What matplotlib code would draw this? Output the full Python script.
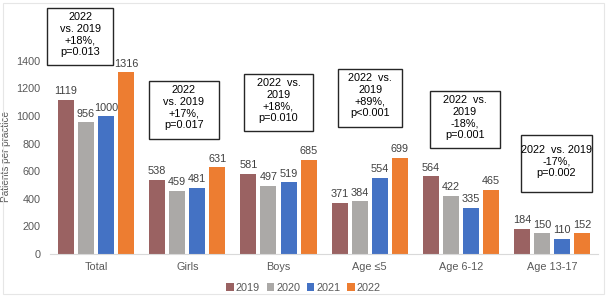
import matplotlib
matplotlib.use("Agg")
import matplotlib.pyplot as plt
import numpy as np
from matplotlib.patches import Rectangle

plt.rcParams['font.family'] = ['Liberation Sans', 'DejaVu Sans']

categories = ['Total', 'Girls', 'Boys', 'Age \u22645', 'Age 6-12', 'Age 13-17']
years = ['2019', '2020', '2021', '2022']
v2019 = [1119, 538, 581, 371, 564, 184]
v2020 = [956, 459, 497, 384, 422, 150]
v2021 = [1000, 481, 519, 554, 335, 110]
v2022 = [1316, 631, 685, 699, 465, 152]
notes = [
    "2022\nvs. 2019\n+18%,\np=0.013",
    "2022\nvs. 2019\n+17%,\np=0.017",
    "2022  vs.\n2019\n+18%,\np=0.010",
    "2022  vs.\n2019\n+89%,\np<0.001",
    "2022  vs.\n2019\n-18%,\np=0.001",
    "2022  vs. 2019\n-17%,\np=0.002",
]
# box extents in data coords: (x0, x1, y_bottom, y_top)
note_boxes = [
    (-0.535, 0.186, 1371, 1784),
    (0.579, 1.344, 834, 1255),
    (1.617, 2.383, 892, 1306),
    (2.656, 3.355, 921, 1342),
    (3.661, 4.426, 769, 1182),
    (4.656, 5.432, 450, 863),
]
colors = ['#9A6262', '#ABA9A7', '#4472C4', '#ED7D31']

fig = plt.figure(figsize=(6.07, 3.0), dpi=100)
ax = fig.add_axes([0.083, 0.153, 0.902, 0.736])

x = np.arange(len(categories))
width = 0.175
step = 0.22
series = [v2019, v2020, v2021, v2022]
for k, (vals, col, yr) in enumerate(zip(series, colors, years)):
    pos = x + (k - 1.5) * step
    ax.bar(pos, vals, width, color=col, label=yr)
    for xi, v in zip(pos, vals):
        ax.text(xi, v + 25, str(v), ha='center', va='bottom', fontsize=7.8, color='#404040')

for txt, (x0, x1, y0, y1) in zip(notes, note_boxes):
    ax.add_patch(Rectangle((x0, y0), x1 - x0, y1 - y0, fill=False, edgecolor='#262626',
                           linewidth=1.0, clip_on=False))
    ax.text((x0 + x1) / 2, (y0 + y1) / 2 + 15, txt, ha='center', va='center', fontsize=7.8,
            color='black', linespacing=1.2, clip_on=False)

ax.set_xlim(-0.5, 5.5)
ax.set_ylim(0, 1600)
ax.set_yticks(range(0, 1401, 200))
ax.set_xticks(x)
ax.set_xticklabels(categories)
ax.tick_params(axis='both', length=0, labelsize=7.8, labelcolor='#595959')
ax.tick_params(axis='y', pad=7)
ax.tick_params(axis='x', pad=6)
for s in ['top', 'right', 'left']:
    ax.spines[s].set_visible(False)
ax.spines['bottom'].set_color('#D9D9D9')
ax.set_ylabel('Patients per practice', fontsize=7.2, color='#595959')
ax.yaxis.set_label_coords(-0.072, 0.44)

ax.legend(loc='center', bbox_to_anchor=(0.5, 0.04), bbox_transform=fig.transFigure,
          ncol=4, frameon=False, fontsize=7.8, handlelength=0.7, handleheight=0.7,
          handletextpad=0.2, columnspacing=0.6, labelcolor='#595959')

fig.patches.append(Rectangle((0.005, 0.02), 0.99, 0.97, transform=fig.transFigure,
                             fill=False, edgecolor='#E6E6E6', linewidth=0.8))

fig.savefig('out.png', dpi=100)
